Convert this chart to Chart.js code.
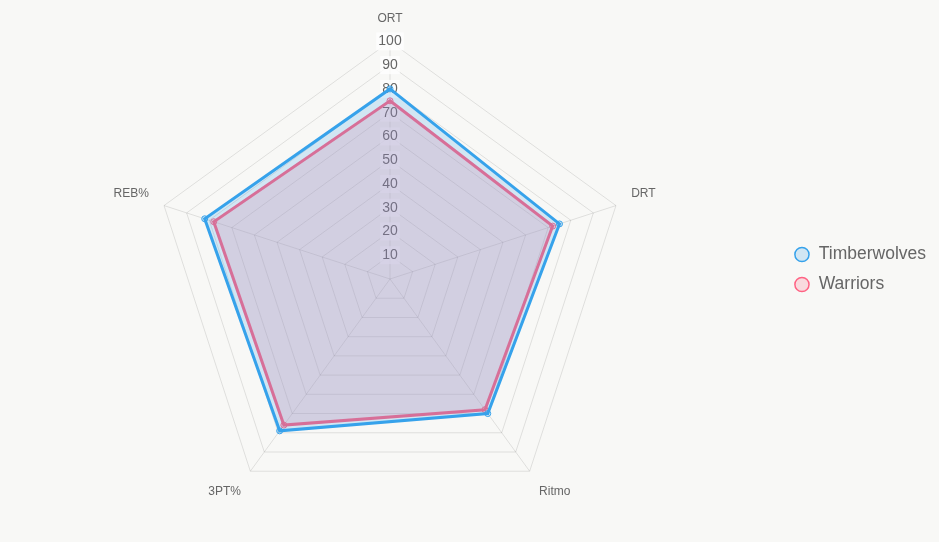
<!DOCTYPE html>
<html>
<head>
<meta charset="utf-8">
<script src="https://cdn.jsdelivr.net/npm/chart.js@4/dist/chart.umd.min.js"></script>
<style>
  html, body { margin: 0; padding: 0; background: #f8f8f6; }
  #wrap { width: 939px; height: 542px; }
</style>
</head>
<body>
<div id="wrap"><canvas id="c" width="939" height="542"></canvas></div>
<script>
const categories = ['ORT', 'DRT', 'Ritmo', '3PT%', 'REB%'];
const timberwolves = [80, 75, 70, 79, 82];
const warriors = [75, 72, 68, 76, 78];
const tickMin = 0, tickMax = 100, tickStep = 10;

new Chart(document.getElementById('c'), {
  type: 'radar',
  data: {
    labels: categories,
    datasets: [
      {
        label: 'Timberwolves',
        data: timberwolves,
        borderColor: '#36A2EB',
        backgroundColor: 'rgba(54,162,235,0.2)',
        borderWidth: 3,
        pointRadius: 3,
        pointBorderWidth: 1,
        pointBackgroundColor: 'rgba(54,162,235,0.2)',
        pointBorderColor: '#36A2EB'
      },
      {
        label: 'Warriors',
        data: warriors,
        borderColor: '#FF6384',
        backgroundColor: 'rgba(255,99,132,0.2)',
        borderWidth: 3,
        pointRadius: 3,
        pointBorderWidth: 1,
        pointBackgroundColor: 'rgba(255,99,132,0.2)',
        pointBorderColor: '#FF6384'
      }
    ]
  },
  options: {
    responsive: false,
    animation: false,
    layout: { padding: { top: 1, bottom: 4, left: 0, right: 3 } },
    plugins: {
      legend: {
        position: 'right',
        labels: {
          usePointStyle: true,
          boxWidth: 16,
          boxHeight: 10,
          color: '#666',
          font: { size: 17.5 },
          padding: 12.5,
          generateLabels(chart) {
            const items = Chart.defaults.plugins.legend.labels.generateLabels(chart);
            items.forEach(i => i.lineWidth = 1.5);
            return items;
          }
        }
      },
      tooltip: { enabled: false }
    },
    scales: {
      r: {
        min: tickMin,
        max: tickMax,
        ticks: { stepSize: tickStep, color: '#666', font: { size: 14 } },
        pointLabels: { color: '#666', font: { size: 12 }, padding: 7 },
        grid: { color: 'rgba(0,0,0,0.1)' },
        angleLines: { color: 'rgba(0,0,0,0.1)' }
      }
    }
  }
});
</script>
</body>
</html>
